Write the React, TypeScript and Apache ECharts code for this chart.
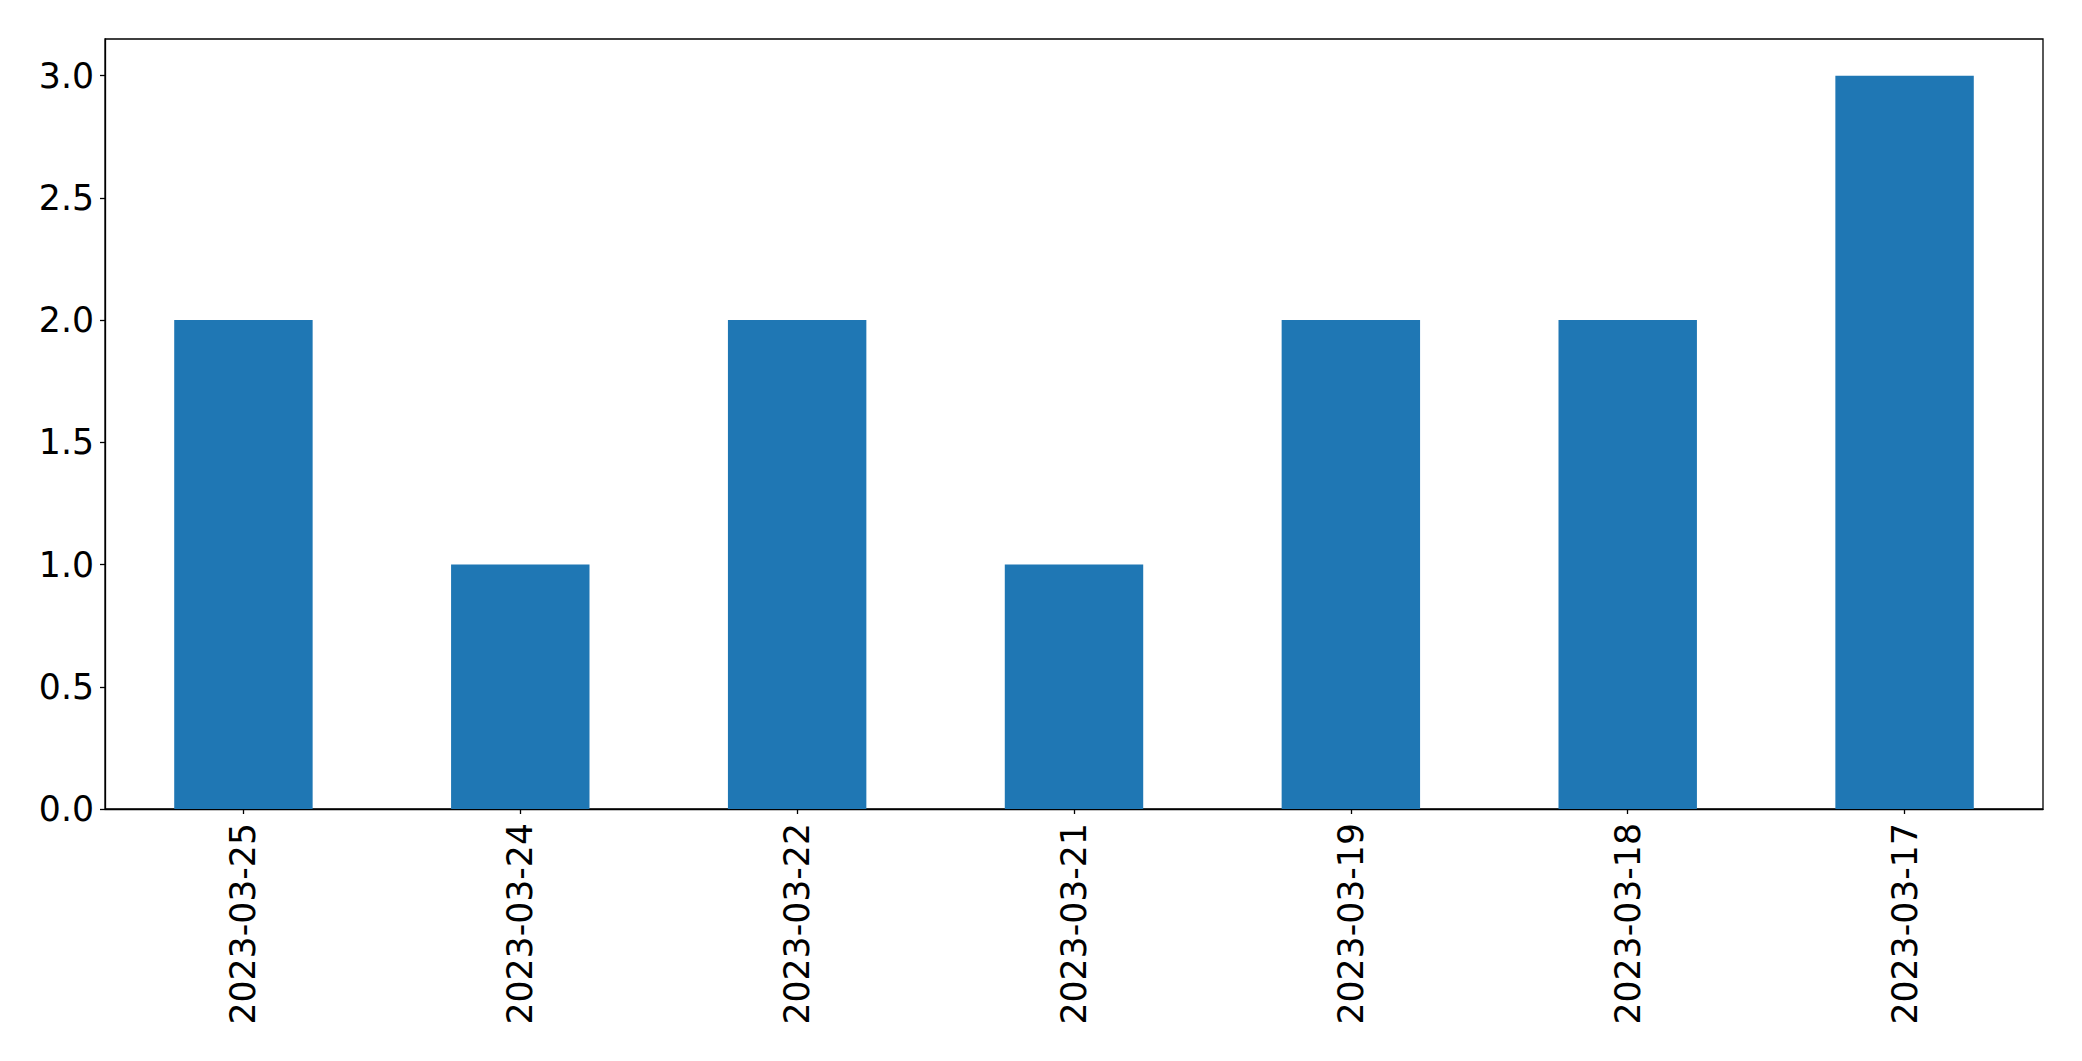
import React, { useEffect, useRef } from "react";
import * as echarts from "echarts";

const categories = ["2023-03-25", "2023-03-24", "2023-03-22", "2023-03-21", "2023-03-19", "2023-03-18", "2023-03-17"];
const counts = [2, 1, 2, 1, 2, 2, 3];
const yTicks = [0, 0.5, 1, 1.5, 2, 2.5, 3];

export default function App() {
  const ref = useRef<HTMLDivElement>(null);
  useEffect(() => {
    if (!ref.current) return;
    const chart = echarts.init(ref.current, null, { renderer: "svg" });
    const font = "DejaVu Sans";
    chart.setOption({
      animation: false,
      backgroundColor: "#ffffff",
      grid: {
        left: 105,
        right: 39,
        top: 39,
        bottom: 252,
        show: true,
        borderColor: "#000000",
        borderWidth: 1.3,
        containLabel: false,
      },
      xAxis: {
        type: "category",
        data: categories,
        boundaryGap: true,
        axisLine: { show: true, lineStyle: { color: "#000", width: 1.3 } },
        axisTick: { show: true, alignWithLabel: true, length: 5, lineStyle: { color: "#000", width: 1.3 } },
        axisLabel: {
          rotate: 90,
          margin: 14,
          fontSize: 34.7,
          fontFamily: font,
          color: "#000",
          interval: 0,
        },
        splitLine: { show: false },
      },
      yAxis: {
        type: "value",
        min: 0,
        max: 3.15,
        interval: 0.5,
        axisLine: { show: true, lineStyle: { color: "#000", width: 1.3 } },
        axisTick: { show: true, length: 5, lineStyle: { color: "#000", width: 1.3 }, customValues: yTicks },
        axisLabel: {
          margin: 11,
          fontSize: 34.7,
          fontFamily: font,
          color: "#000",
          customValues: yTicks,
          formatter: (v: number) => v.toFixed(1),
        },
        splitLine: { show: false },
      },
      series: [
        {
          type: "bar",
          data: counts,
          barWidth: "50%",
          itemStyle: { color: "#1f77b4" },
        },
      ],
    });
    return () => chart.dispose();
  }, []);
  return (
    <div
      ref={ref}
      style={{ position: "fixed", left: 0, top: 0, width: 2082, height: 1061, background: "#fff" }}
    />
  );
}
